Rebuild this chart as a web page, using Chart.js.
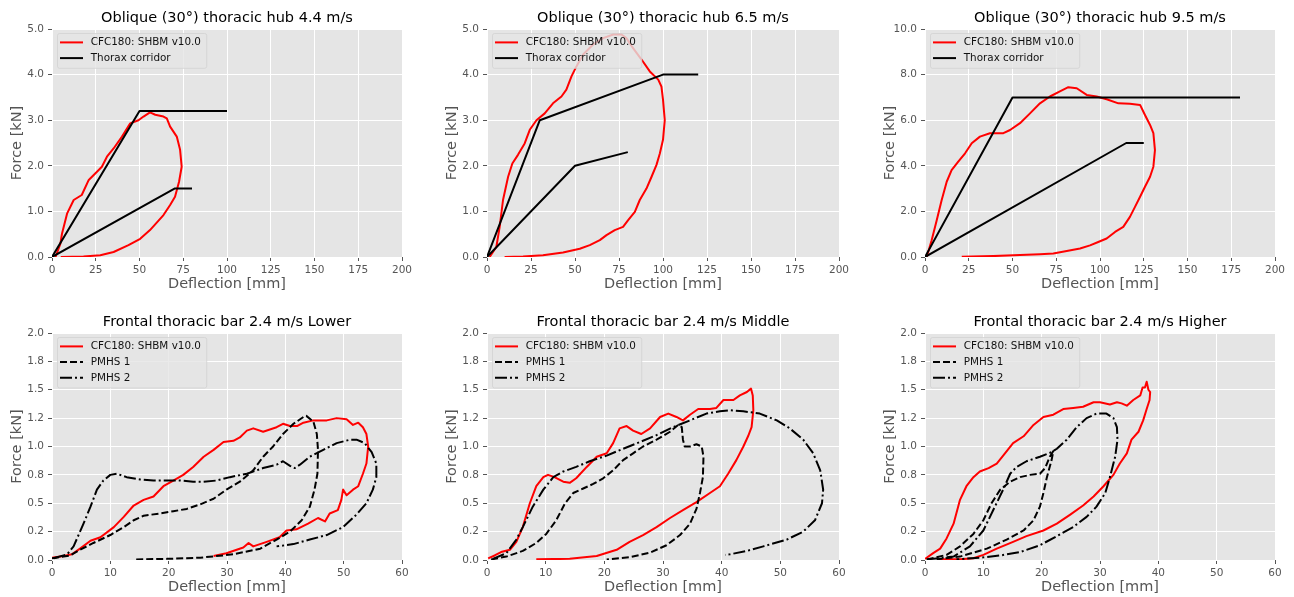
<!DOCTYPE html>
<html>
<head>
<meta charset="utf-8">
<script src="https://cdn.jsdelivr.net/npm/chart.js@4/dist/chart.umd.min.js"></script>
<style>
  html, body { margin: 0; padding: 0; background: #fff; overflow: hidden; }
  #fig { position: relative; width: 1294px; height: 597px; }
  canvas { position: absolute; }
</style>
</head>
<body>
<div id="fig"></div>
<script>
// ---- tick values / labels ----
const hubXTicks = [0, 25, 50, 75, 100, 125, 150, 175, 200];
const hubXLabels = ['0', '25', '50', '75', '100', '125', '150', '175', '200'];
const hubYTicks = [0, 1, 2, 3, 4, 5];
const hubYLabels = ['0.0', '1.0', '2.0', '3.0', '4.0', '5.0'];
const hub95YTicks = [0, 2, 4, 6, 8, 10];
const hub95YLabels = ['0.0', '2.0', '4.0', '6.0', '8.0', '10.0'];
const barXTicks = [0, 10, 20, 30, 40, 50, 60];
const barXLabels = ['0', '10', '20', '30', '40', '50', '60'];
const barYTicks = [0, 0.25, 0.5, 0.75, 1, 1.25, 1.5, 1.75, 2];
const barYLabels = ['0.0', '0.2', '0.5', '0.8', '1.0', '1.2', '1.5', '1.8', '2.0'];

// ---- oblique hub: [deflection mm, force kN] ----
const hub44Shbm = [[2,0],[4.8,0.29],[5.7,0.51],[8.6,0.95],[12.4,1.25],[17,1.36],[21,1.69],[25.7,1.87],[28.5,1.98],[31.4,2.2],[35.2,2.38],[40,2.64],[44.7,2.93],[49.4,3.0],[52.3,3.08],[56,3.17],[59,3.12],[63.7,3.08],[65.6,3.04],[67.5,2.86],[71.3,2.64],[73.2,2.35],[74.1,1.98],[72.6,1.65],[70.3,1.32],[67.5,1.14],[63.7,0.92],[56,0.59],[50.4,0.4],[43.7,0.26],[35.2,0.11],[27.6,0.04],[18,0.01],[5,0]];
const hub44CorrUpper = [[0,0],[50,3.2],[100,3.2]];
const hub44CorrLower = [[0,0],[70,1.5],[80,1.5]];

const hub65Shbm = [[1.5,0],[5.3,0.22],[7.2,0.66],[9.1,1.25],[12,1.76],[14.4,2.05],[17.6,2.24],[21.4,2.49],[24.3,2.79],[28.1,3.0],[32.8,3.15],[37.5,3.37],[42.3,3.52],[45.1,3.67],[48,3.96],[50.8,4.18],[54.6,4.44],[60.3,4.66],[66,4.8],[71.7,4.88],[76.4,4.88],[79.2,4.8],[83,4.58],[87.8,4.33],[92.5,4.07],[97.3,3.89],[99.1,3.74],[100,3.45],[101,3.0],[100,2.57],[98.2,2.27],[96.3,2.02],[93.5,1.76],[90.6,1.5],[86.8,1.25],[84,0.99],[80.2,0.81],[77.3,0.66],[72.6,0.59],[67.9,0.48],[64.1,0.37],[58.4,0.26],[52.7,0.18],[43.2,0.1],[31.8,0.04],[20.5,0.01],[10,0]];
const hub65CorrUpper = [[0,0],[30,3.0],[100,4.0],[120,4.0]];
const hub65CorrLower = [[0,0],[50,2.0],[80,2.3]];

const hub95Shbm = [[1,0],[3.8,0.73],[6.7,1.61],[9.5,2.49],[12.4,3.3],[15.2,3.81],[19,4.18],[22.9,4.55],[26.7,4.99],[31.4,5.28],[37.1,5.43],[44.8,5.43],[48.6,5.57],[54.3,5.87],[60,6.3],[65.7,6.74],[71.4,7.04],[77.1,7.26],[81.9,7.45],[86.7,7.4],[92.4,7.11],[98.1,7.04],[103.8,6.92],[110.5,6.74],[117.1,6.72],[122.9,6.67],[125.7,6.23],[128.6,5.79],[130.5,5.43],[131.4,4.69],[130.5,3.96],[128.6,3.52],[125.7,3.08],[122.9,2.64],[120,2.2],[117.1,1.76],[113.3,1.32],[108.6,1.1],[103.8,0.81],[99,0.66],[94.3,0.51],[88.6,0.37],[81,0.26],[73.3,0.15],[65.7,0.12],[54.3,0.09],[39,0.04],[21,0.01]];
const hub95CorrUpper = [[0,0],[50,7],[180,7]];
const hub95CorrLower = [[0,0],[115,5],[125,5]];

// ---- frontal bar: [deflection mm, force kN] ----
const lowerShbm = [[0,0.02],[2,0.035],[3.4,0.05],[4.8,0.1],[6.6,0.17],[8.3,0.2],[10.6,0.29],[12.3,0.38],[14,0.48],[15.7,0.53],[17.4,0.56],[19.1,0.65],[20.8,0.7],[22.5,0.75],[24.2,0.82],[26,0.91],[27.7,0.97],[29.4,1.04],[31.1,1.05],[32.2,1.08],[33.4,1.14],[34.5,1.16],[36.2,1.13],[38.5,1.17],[39.6,1.2],[40.8,1.18],[42,1.18],[43.1,1.21],[44.8,1.23],[47.1,1.23],[48.8,1.25],[50.5,1.24],[51.6,1.19],[52.5,1.21],[53.3,1.17],[53.9,1.11],[54.2,1.0],[53.9,0.85],[53.3,0.76],[52.5,0.65],[51.6,0.62],[50.5,0.57],[49.9,0.62],[49.6,0.53],[49,0.44],[47.6,0.41],[46.8,0.34],[45.6,0.37],[43.9,0.32],[41.9,0.27],[40.2,0.26],[39,0.2],[36.8,0.16],[34.5,0.12],[33.7,0.15],[32.8,0.11],[29.9,0.06],[27.7,0.035]];
const lowerPmhs1 = [[0,0.015],[3.1,0.04],[4.8,0.09],[7.1,0.15],[10,0.22],[12.3,0.29],[14,0.35],[15.7,0.39],[18.5,0.41],[20.8,0.43],[23.1,0.45],[25.4,0.49],[27.7,0.54],[29.9,0.62],[32.2,0.69],[34.5,0.79],[36.2,0.91],[37.9,1.0],[39.6,1.11],[41.4,1.2],[43.1,1.26],[43.6,1.27],[44.8,1.22],[45.4,1.11],[45.6,0.97],[45.5,0.76],[45,0.62],[44.2,0.47],[42.8,0.35],[40.8,0.25],[38.5,0.18],[35.7,0.1],[31.1,0.05],[25.4,0.02],[19.7,0.01],[14,0.005]];
const lowerPmhs2 = [[0.3,0.015],[2.6,0.05],[3.7,0.12],[5.4,0.32],[6.6,0.47],[7.7,0.62],[8.8,0.7],[10,0.75],[11.1,0.76],[12.8,0.73],[15.1,0.71],[17.4,0.7],[19.7,0.7],[22,0.7],[24.2,0.69],[26,0.69],[28.2,0.7],[30.5,0.73],[33.4,0.76],[36.2,0.81],[38.5,0.84],[39.6,0.87],[40.8,0.83],[41.6,0.81],[42.5,0.84],[44.2,0.91],[46.5,0.97],[48.8,1.03],[51.1,1.06],[52.2,1.06],[53.6,1.03],[54.8,0.95],[55.6,0.85],[55.6,0.73],[55,0.62],[53.9,0.5],[52.2,0.4],[49.9,0.29],[47.1,0.22],[44.2,0.18],[41.4,0.14],[38.5,0.12]];

const middleShbm = [[0.2,0.015],[1.3,0.04],[2.4,0.07],[3.9,0.09],[5,0.16],[6.1,0.29],[7.3,0.5],[8.4,0.65],[9.6,0.73],[10.4,0.75],[11.5,0.73],[13,0.69],[14.1,0.68],[15.2,0.72],[17,0.82],[18.7,0.91],[20.4,0.94],[21.5,1.03],[22.6,1.16],[23.8,1.18],[24.9,1.14],[26.3,1.11],[27.8,1.16],[29.5,1.26],[30.9,1.29],[32.3,1.26],[33.4,1.23],[34.6,1.28],[36,1.33],[38,1.33],[39.1,1.34],[40.3,1.41],[42,1.41],[43.1,1.45],[44.3,1.48],[45,1.51],[45.3,1.45],[45.4,1.32],[45.1,1.17],[44.5,1.09],[43.7,1.0],[42.5,0.88],[41.1,0.76],[39.7,0.65],[38,0.59],[35.7,0.51],[33.4,0.44],[31.2,0.37],[28.9,0.29],[26.6,0.22],[24.3,0.16],[22.1,0.09],[18.7,0.035],[14.1,0.01],[8.4,0.006]];
const middlePmhs1 = [[0.7,0.005],[3.3,0.03],[6.1,0.08],[8.4,0.15],[10.1,0.23],[11.8,0.35],[13.3,0.5],[14.7,0.59],[16.4,0.63],[18.1,0.67],[19.8,0.72],[21.5,0.79],[23.2,0.88],[24.9,0.94],[26.6,1.0],[28.9,1.06],[31.2,1.13],[32.6,1.19],[33.2,1.17],[33.4,1.06],[33.7,1.0],[34.6,1.0],[35.7,1.02],[36.6,1.0],[36.9,0.91],[36.8,0.73],[36.3,0.59],[35.7,0.45],[34.6,0.32],[32.9,0.22],[30.6,0.13],[27.8,0.065],[24.3,0.025],[20.4,0.005]];
const middlePmhs2 = [[1,0.01],[3.3,0.06],[5,0.18],[6.1,0.29],[7.8,0.47],[9.6,0.62],[11.3,0.73],[13,0.78],[15.2,0.82],[17.5,0.87],[20.4,0.92],[23.2,0.98],[26.1,1.04],[28.9,1.1],[31.7,1.17],[34.6,1.23],[37.4,1.29],[39.7,1.31],[41.4,1.32],[43.7,1.31],[46.5,1.29],[49.4,1.23],[51.6,1.16],[53.9,1.06],[55.6,0.94],[56.8,0.79],[57.3,0.62],[57.1,0.5],[55.9,0.35],[53.9,0.25],[51.1,0.18],[47.1,0.12],[44.3,0.08],[41.4,0.05],[40.6,0.045]];

const higherShbm = [[0,0.01],[1.4,0.06],[2.6,0.1],[3.7,0.19],[4.9,0.32],[6,0.53],[7.1,0.65],[8.3,0.73],[9.4,0.78],[10.9,0.81],[12.3,0.85],[13.4,0.92],[15.1,1.03],[16.9,1.09],[18.6,1.19],[20.3,1.26],[22,1.28],[23.7,1.33],[25.4,1.34],[27.1,1.35],[28.9,1.39],[30,1.39],[31.7,1.37],[32.9,1.39],[33.7,1.38],[34.6,1.36],[35.7,1.41],[36.9,1.45],[37.3,1.52],[37.7,1.52],[38,1.57],[38.3,1.5],[38.6,1.48],[38.5,1.41],[38,1.33],[37.4,1.23],[36.6,1.13],[35.4,1.06],[34.6,0.94],[33.4,0.85],[32.3,0.75],[30.6,0.65],[28.9,0.56],[27.1,0.48],[24.9,0.4],[22.6,0.32],[20.3,0.26],[17.4,0.21],[15.1,0.16],[12.3,0.1],[10,0.045],[8.3,0.015],[6,0.006],[2.6,0.006]];
const higherPmhs1 = [[0.3,0.005],[3.7,0.045],[6,0.12],[8.3,0.23],[10,0.35],[11.4,0.5],[12.9,0.62],[14.6,0.69],[16.3,0.73],[18,0.75],[19.7,0.76],[20.6,0.81],[21.4,0.91],[22,0.96],[21.7,0.88],[20.9,0.73],[20.3,0.59],[19.7,0.47],[18.6,0.35],[16.9,0.26],[14,0.18],[10.6,0.1],[6,0.03],[2,0.006]];
const higherPmhs2 = [[0.3,0.005],[4.9,0.03],[7.7,0.12],[10,0.26],[11.7,0.44],[13.4,0.62],[14.6,0.76],[15.7,0.82],[17.4,0.87],[19.7,0.91],[21.7,0.95],[22.6,0.98],[24.3,1.06],[26,1.17],[27.7,1.25],[29.4,1.29],[31.1,1.29],[32.3,1.25],[32.9,1.17],[33,1.06],[32.6,0.91],[31.7,0.73],[30.9,0.59],[29.4,0.47],[27.7,0.38],[25.4,0.29],[22.6,0.21],[19.7,0.13],[16.3,0.07],[12.9,0.04],[9.4,0.02],[5.4,0.006]];

// ---- styling / layout ----
const FONT = 'DejaVu Sans';
const RED = '#ff0000', BLACK = '#000000';
const DASHED = [7, 3], DASHDOT = [12, 3, 2, 3];
const YW = 52, TITLE_H = 29, XH = 36, PAD_R = 14;   // fixed axis boxes so the plot areas line up
const COL_L = [52, 487, 925], COL_W = [350, 352, 350];
const ROW_T = [29, 333], ROW_H = [228, 227];

const legendTop = [
  { label: 'CFC180: SHBM v10.0', color: RED, dash: [] },
  { label: 'Thorax corridor', color: BLACK, dash: [] },
];
const legendBar = [
  { label: 'CFC180: SHBM v10.0', color: RED, dash: [] },
  { label: 'PMHS 1', color: BLACK, dash: DASHED },
  { label: 'PMHS 2', color: BLACK, dash: DASHDOT },
];

// grey ggplot-style plot background
const plotBg = {
  id: 'plotBg',
  beforeDraw(chart) {
    const { ctx, chartArea: a } = chart;
    ctx.save();
    ctx.fillStyle = '#e5e5e5';
    ctx.fillRect(a.left, a.top, a.width, a.height);
    ctx.restore();
  }
};

// matplotlib-like legend inside the axes, drawn over the curves with a translucent frame
const ggLegend = {
  id: 'ggLegend',
  afterDatasetsDraw(chart, args, opts) {
    const items = opts.items;
    if (!items) return;
    const { ctx, chartArea: a } = chart;
    ctx.save();
    ctx.font = '10.4px "' + FONT + '"';
    const textW = Math.max(...items.map(it => ctx.measureText(it.label).width));
    const x = a.left + 5, y = a.top + 4, rowH = 15.7;
    const w = 39 + textW, h = 19.1 + (items.length - 1) * rowH;
    ctx.beginPath();
    ctx.roundRect(x + 0.5, y + 0.5, w, h, 2);
    ctx.fillStyle = 'rgba(229,229,229,0.8)';
    ctx.fill();
    ctx.strokeStyle = 'rgba(210,210,210,0.8)';
    ctx.lineWidth = 1;
    ctx.stroke();
    items.forEach((it, i) => {
      const cy = y + 9.4 + i * rowH;
      ctx.beginPath();
      ctx.setLineDash(it.dash);
      ctx.strokeStyle = it.color;
      ctx.lineWidth = 2;
      ctx.moveTo(x + 3, cy);
      ctx.lineTo(x + 26, cy);
      ctx.stroke();
      ctx.setLineDash([]);
      ctx.fillStyle = '#111';
      ctx.textBaseline = 'middle';
      ctx.fillText(it.label, x + 33.7, cy);
    });
    ctx.restore();
  }
};

function line(data, color, dash) {
  return {
    data: data.map(([x, y]) => ({ x, y })),
    showLine: true, borderColor: color, backgroundColor: color,
    borderWidth: 2, borderDash: dash || [], borderJoinStyle: 'round',
    pointRadius: 0, tension: 0, fill: false
  };
}

function axis(isX, max, values, labels, title) {
  return {
    type: 'linear', position: isX ? 'bottom' : 'left', min: 0, max,
    afterBuildTicks: s => { s.ticks = values.map(v => ({ value: v })); },
    afterFit: s => { if (isX) s.height = XH; else s.width = YW; },
    ticks: {
      callback: (v, i) => labels[i], autoSkip: false, maxRotation: 0,
      color: '#555', padding: isX ? 3 : 4, font: { family: FONT, size: 10.5 }
    },
    grid: { color: '#ffffff', lineWidth: 1, tickColor: '#555', tickLength: 4, tickWidth: 1 },
    border: { display: false },
    title: {
      display: true, text: title, color: '#555',
      font: { family: FONT, size: 14.5, lineHeight: '18px' },
      padding: isX ? { top: 0, bottom: 0 } : { top: 8, bottom: 0 }
    }
  };
}

function panel(col, row, title, datasets, legend, x, y) {
  const cv = document.createElement('canvas');
  const w = YW + COL_W[col] + PAD_R, h = TITLE_H + ROW_H[row] + XH;
  cv.width = w; cv.height = h;
  cv.style.left = (COL_L[col] - YW) + 'px';
  cv.style.top = (ROW_T[row] - TITLE_H) + 'px';
  cv.style.width = w + 'px'; cv.style.height = h + 'px';
  document.getElementById('fig').appendChild(cv);
  new Chart(cv, {
    type: 'scatter',
    data: { datasets },
    options: {
      responsive: false, animation: false, events: [], devicePixelRatio: 1,
      layout: { padding: { top: 0, right: PAD_R, bottom: 0, left: 0 } },
      plugins: {
        legend: { display: false }, tooltip: { enabled: false },
        title: {
          display: true, text: title, color: '#000', fullSize: false,   // centred over the plot area
          font: { family: FONT, size: 14.5, weight: 'normal', lineHeight: '18px' },
          padding: { top: 9, bottom: 2 }
        },
        ggLegend: { items: legend }
      },
      scales: {
        x: axis(true, x.max, x.ticks, x.labels, 'Deflection [mm]'),
        y: axis(false, y.max, y.ticks, y.labels, 'Force [kN]')
      }
    },
    plugins: [plotBg, ggLegend]
  });
}

const hubX = { max: 200, ticks: hubXTicks, labels: hubXLabels };
const hubY = { max: 5, ticks: hubYTicks, labels: hubYLabels };
const barX = { max: 60, ticks: barXTicks, labels: barXLabels };
const barY = { max: 2, ticks: barYTicks, labels: barYLabels };

// red first in the matplotlib plot order -> last in Chart.js (drawn underneath)
panel(0, 0, 'Oblique (30°) thoracic hub 4.4 m/s',
  [line(hub44CorrLower, BLACK), line(hub44CorrUpper, BLACK), line(hub44Shbm, RED)], legendTop, hubX, hubY);
panel(1, 0, 'Oblique (30°) thoracic hub 6.5 m/s',
  [line(hub65CorrLower, BLACK), line(hub65CorrUpper, BLACK), line(hub65Shbm, RED)], legendTop, hubX, hubY);
panel(2, 0, 'Oblique (30°) thoracic hub 9.5 m/s',
  [line(hub95CorrLower, BLACK), line(hub95CorrUpper, BLACK), line(hub95Shbm, RED)], legendTop, hubX,
  { max: 10, ticks: hub95YTicks, labels: hub95YLabels });
panel(0, 1, 'Frontal thoracic bar 2.4 m/s Lower',
  [line(lowerPmhs2, BLACK, DASHDOT), line(lowerPmhs1, BLACK, DASHED), line(lowerShbm, RED)], legendBar, barX, barY);
panel(1, 1, 'Frontal thoracic bar 2.4 m/s Middle',
  [line(middlePmhs2, BLACK, DASHDOT), line(middlePmhs1, BLACK, DASHED), line(middleShbm, RED)], legendBar, barX, barY);
panel(2, 1, 'Frontal thoracic bar 2.4 m/s Higher',
  [line(higherPmhs2, BLACK, DASHDOT), line(higherPmhs1, BLACK, DASHED), line(higherShbm, RED)], legendBar, barX, barY);
</script>
</body>
</html>
